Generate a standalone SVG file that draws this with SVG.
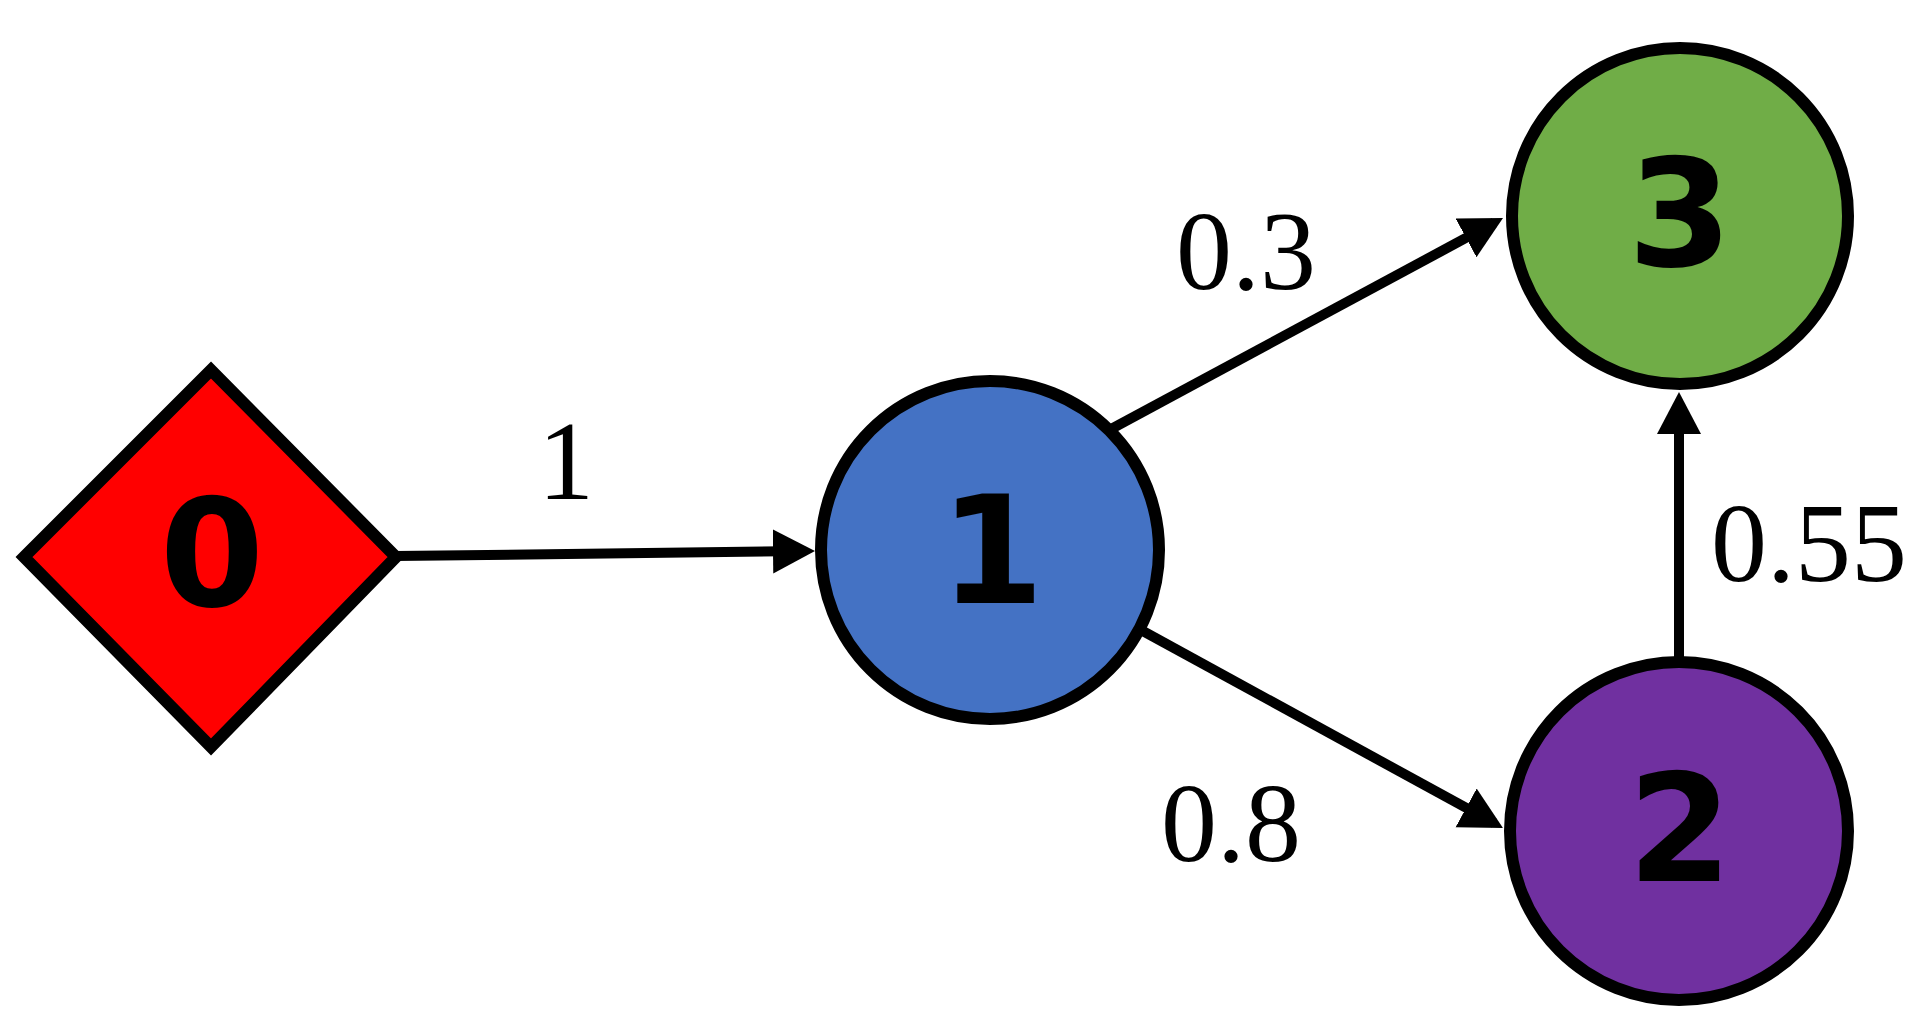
<svg xmlns="http://www.w3.org/2000/svg" width="1932" height="1021" viewBox="0 0 1932 1021">
  <defs>
    <style>
      .node { stroke: #000; stroke-width: 12; }
      .nlabel { font-family: 'DejaVu Sans', sans-serif; font-weight: bold; font-size: 150px; fill: #000; text-anchor: middle; }
      .edge { stroke: #000; stroke-width: 10; fill: none; marker-end: url(#arrow); }
      .elabel { font-family: 'Liberation Serif', serif; font-weight: normal; font-size: 112px; fill: #000; text-anchor: middle; }
    </style>
    <marker id="arrow" markerUnits="userSpaceOnUse" markerWidth="44" markerHeight="46" refX="32" refY="22" orient="auto" viewBox="0 0 44 46">
      <path d="M0,0 L42,22 L0,44 Z" fill="#000"/>
    </marker>
  </defs>
  <rect width="1932" height="1021" fill="#fff"/>
  <g id="connectors">
    <g id="e0-1">
      <line class="edge" x1="395" y1="556" x2="805" y2="551.1"/>
      <text class="elabel" font-family="Liberation Serif" x="566" y="499">1</text>
    </g>
    <g id="e1-3">
      <line class="edge" x1="1100" y1="435" x2="1494.2" y2="222.7"/>
      <text class="elabel" font-family="Liberation Serif" x="1246" y="289">0.3</text>
    </g>
    <g id="e1-2">
      <line class="edge" x1="1130" y1="624" x2="1494.2" y2="823.2"/>
      <text class="elabel" font-family="Liberation Serif" x="1231" y="861">0.8</text>
    </g>
    <g id="e2-3">
      <line class="edge" x1="1679" y1="670" x2="1679" y2="402"/>
      <text class="elabel" font-family="Liberation Serif" x="1809" y="581">0.55</text>
    </g>
  </g>
  <g id="node0">
    <path class="node" d="M24,557 L211,370 L396,557 L211,747 Z" fill="#FF0000" stroke-linejoin="miter"/>
    <text class="nlabel" x="212" y="606">0</text>
  </g>
  <g id="node1">
    <circle class="node" cx="990" cy="550" r="169" fill="#4472C4"/>
    <text class="nlabel" x="992" y="603">1</text>
  </g>
  <g id="node3">
    <circle class="node" cx="1680" cy="216" r="168" fill="#70AD47"/>
    <text class="nlabel" x="1680" y="266">3</text>
  </g>
  <g id="node2">
    <circle class="node" cx="1679" cy="831" r="169" fill="#7030A0"/>
    <text class="nlabel" x="1680" y="881">2</text>
  </g>
</svg>
